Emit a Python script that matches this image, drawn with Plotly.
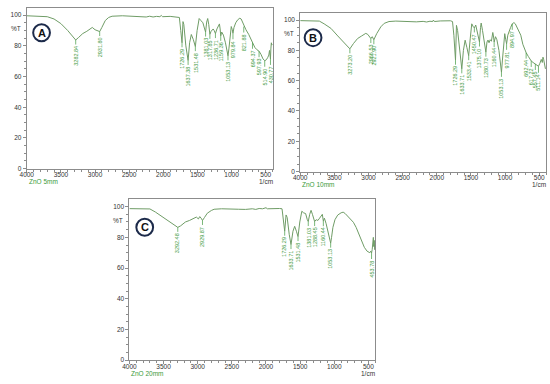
import plotly.graph_objects as go
import numpy as np

# ---------------- data ----------------
wn_A = [4000, 3900, 3750, 3700, 3600, 3500, 3400, 3330, 3283, 3240, 3180, 3120, 3060, 3040, 3000, 2960, 2932, 2900,
        2850, 2800, 2750, 2600, 2500, 2400, 2300, 2250, 2200, 2150, 2100, 2050, 2030, 2010, 1900, 1780, 1765, 1745,
        1726, 1712, 1700, 1670, 1637, 1615, 1590, 1560, 1531, 1505, 1475, 1450, 1420, 1395, 1381, 1365, 1350, 1335,
        1318, 1300, 1270, 1255, 1237, 1215, 1195, 1178, 1168, 1159, 1145, 1120, 1090, 1065, 1053, 1040, 1025, 1005,
        990, 980, 965, 940, 910, 880, 860, 840, 822, 790, 750, 720, 694, 660, 630, 598, 570, 540, 515, 490, 470, 455,
        445, 438, 431, 425, 418, 410, 400]
t_A = [99.6, 99.5, 99.3, 99.0, 97.5, 94.5, 90.0, 86.0, 83.8, 85.5, 88.0, 89.5, 91.0, 92.0, 90.5, 90.0, 89.3, 92.0,
       96.5, 98.5, 99.3, 99.6, 99.4, 99.5, 99.2, 98.8, 99.3, 98.8, 99.2, 99.0, 99.8, 99.0, 99.2, 99.0, 98.5, 90.0,
       82.0, 95.8, 94.0, 80.0, 70.5, 82.0, 87.4, 84.0, 79.5, 90.0, 97.8, 96.5, 95.0, 91.0, 89.0, 95.5, 97.8, 94.0,
       87.5, 89.5, 91.0, 90.0, 88.0, 91.0, 92.5, 94.3, 91.0, 86.5, 89.0, 87.0, 82.0, 76.0, 73.5, 78.0, 85.0, 92.6,
       90.5, 88.2, 92.0, 95.0, 97.0, 98.0, 97.5, 95.5, 92.6, 90.5, 87.5, 84.5, 82.0, 79.0, 77.5, 76.5, 74.5, 71.5,
       70.3, 71.0, 72.5, 74.0, 77.0, 73.0, 71.5, 78.0, 82.0, 80.5, 81.0]
pk_A = [3283, 2932, 1726, 1637, 1531, 1381, 1318, 1237, 1159, 1053, 980, 822, 694, 598, 515, 431]
lb_A = ["3282.84", "2931.80", "1726.29", "1637.38", "1531.48", "1381.03", "1317.85", "1236.71", "1159.36",
        "1053.13", "979.84", "821.88", "694.37", "597.93", "514.90", "430.77"]

wn_B = [4000, 3800, 3720, 3650, 3550, 3450, 3350, 3273, 3220, 3160, 3100, 3040, 3010, 2966, 2945, 2922, 2880, 2820,
        2770, 2700, 2600, 2500, 2400, 2300, 2200, 2150, 2100, 2060, 2050, 2035, 1950, 1800, 1770, 1750, 1726, 1712,
        1695, 1665, 1634, 1610, 1585, 1560, 1533, 1510, 1488, 1465, 1450, 1430, 1405, 1375, 1360, 1350, 1330, 1305,
        1281, 1265, 1250, 1235, 1218, 1200, 1180, 1170, 1160, 1140, 1120, 1090, 1065, 1053, 1040, 1025, 1005, 990,
        978, 960, 945, 920, 895, 870, 850, 830, 800, 770, 740, 715, 692, 660, 640, 617, 590, 557, 530, 511, 490, 470,
        455, 445, 435, 425, 410, 400]
t_B = [99.6, 99.6, 99.3, 97.5, 94.5, 89.5, 84.5, 81.0, 84.5, 87.8, 89.5, 91.2, 90.5, 87.8, 89.0, 87.0, 91.0, 95.5,
       97.8, 99.0, 99.3, 99.0, 99.2, 98.8, 99.1, 98.7, 99.2, 99.0, 100.0, 99.0, 99.4, 99.5, 99.0, 90.0, 73.5, 96.5,
       93.0, 78.0, 67.8, 80.0, 86.7, 82.0, 76.5, 88.0, 97.5, 95.5, 94.8, 96.7, 92.0, 85.5, 95.0, 98.0, 93.0, 84.0,
       78.8, 85.5, 86.8, 85.0, 87.0, 86.0, 91.8, 89.5, 85.5, 89.0, 87.0, 80.0, 70.0, 65.5, 73.0, 82.0, 91.0, 87.0,
       84.3, 90.0, 92.2, 95.0, 97.5, 98.3, 97.5, 95.5, 93.3, 90.0, 84.0, 80.5, 78.5, 76.0, 74.5, 73.0, 72.0, 71.0,
       70.5, 69.5, 71.5, 74.0, 72.0, 75.5, 74.0, 70.0, 68.0, 68.5]
pk_B = [3273, 2966, 2922, 1726, 1634, 1533, 1450, 1375, 1281, 1160, 1053, 978, 895, 692, 617, 557, 511]
lb_B = ["3273.20", "2966.53", "2921.90", "1726.29", "1633.71", "1533.41", "1450.47", "1375.10", "1280.73",
        "1160.44", "1053.13", "977.81", "894.97", "692.44", "617.22", "557.45", "511.14"]

wn_C = [4000, 3800, 3700, 3620, 3520, 3420, 3340, 3292, 3250, 3180, 3120, 3060, 3020, 2990, 2970, 2950, 2930, 2900,
        2860, 2800, 2760, 2650, 2550, 2450, 2400, 2300, 2200, 2150, 2100, 2050, 2000, 1980, 1900, 1800, 1765, 1745,
        1726, 1706, 1690, 1660, 1634, 1605, 1580, 1555, 1531, 1505, 1475, 1450, 1420, 1395, 1381, 1360, 1340, 1320,
        1300, 1288, 1265, 1240, 1215, 1190, 1175, 1160, 1145, 1120, 1090, 1065, 1053, 1040, 1020, 990, 950, 900, 870,
        840, 800, 760, 720, 680, 640, 600, 560, 520, 500, 480, 465, 454, 445, 432, 428, 422, 415, 408, 400]
t_C = [98.7, 98.7, 98.5, 96.5, 93.5, 90.5, 88.0, 86.5, 87.5, 90.0, 91.0, 92.5, 93.2, 92.0, 93.5, 92.5, 91.0, 93.0,
       95.7, 97.5, 98.3, 98.6, 98.4, 98.0, 98.3, 98.2, 98.6, 98.2, 98.8, 98.6, 99.3, 98.6, 98.8, 98.8, 98.6, 92.0,
       84.0, 94.6, 93.0, 82.0, 75.3, 84.0, 87.2, 84.0, 80.5, 90.0, 97.0, 96.0, 95.5, 91.5, 90.3, 95.0, 97.6, 95.0,
       91.5, 90.3, 91.5, 91.0, 92.5, 94.0, 95.0, 90.5, 92.5, 89.0, 84.0, 78.0, 76.2, 80.0, 86.5, 91.5, 94.5, 96.0,
       96.4, 95.5, 93.5, 91.5, 89.8, 86.5, 82.0, 77.5, 73.5, 71.0, 70.2, 70.0, 71.0, 69.8, 72.0, 78.0, 80.0, 74.0,
       78.0, 72.0, 73.0]
pk_C = [3292, 2930, 1726, 1634, 1531, 1381, 1288, 1160, 1053, 454]
lb_C = ["3292.48", "2929.87", "1726.29", "1633.71", "1531.48", "1381.03", "1288.45", "1160.44", "1053.13", "453.78"]

names = ["ZnO 5mm", "ZnO 10mm", "ZnO 20mm"]
letters = ["A", "B", "C"]
x_ticks = [4000, 3500, 3000, 2500, 2000, 1500, 1000, 500]
y_ticks = [0, 20, 40, 60, 80, 100]

# ---------------- layout geometry (pixels) ----------------
W, H = 550, 384
boxes = [(20, 269, 8, 170), (297, 546, 13, 173), (124, 373, 201, 363)]   # left, right, top, bottom
circles = [(35, 33), (310, 38), (139.5, 229)]

LINE = "#6f9c66"
LBL = "#3f9a3f"
AX = "#8c8c8c"
TXT = "#333333"
FONT = "Liberation Sans, Arial, sans-serif"

fig = go.Figure()
spectra = [(wn_A, t_A, pk_A, lb_A), (wn_B, t_B, pk_B, lb_B), (wn_C, t_C, pk_C, lb_C)]
annotations = []
shapes = []
for i, (wn, tt, pk, lb) in enumerate(spectra):
    sfx = "" if i == 0 else str(i + 1)
    xa, ya = "x" + sfx, "y" + sfx
    fig.add_trace(go.Scatter(x=wn, y=tt, mode="lines", line=dict(color=LINE, width=1),
                             xaxis=xa, yaxis=ya, showlegend=False, hoverinfo="skip"))
    l, r, t, b = boxes[i]
    common = dict(showline=True, linecolor=AX, linewidth=1, mirror=True, showgrid=False, zeroline=False,
                  ticks="outside", ticklen=3, tickcolor=AX,
                  tickfont=dict(size=6.5, color=TXT, family=FONT))
    fig.update_layout(**{
        "xaxis" + sfx: dict(domain=[l / W, r / W], anchor=ya, range=[4000, 400], tickvals=x_ticks,
                            ticklabelstandoff=-3,
                            minor=dict(dtick=100, ticks="outside", ticklen=2, tickcolor=AX), **common),
        "yaxis" + sfx: dict(domain=[1 - b / H, 1 - t / H], anchor=xa, range=[0, 104.7], tickvals=y_ticks,
                            minor=dict(dtick=5, ticks="outside", ticklen=2, tickcolor=AX), **common),
    })
    # peak labels
    wn_r = np.array(wn[::-1], dtype=float)
    t_r = np.array(tt[::-1], dtype=float)
    for p, s in zip(pk, lb):
        yv = float(np.interp(p, wn_r, t_r))
        annotations.append(dict(x=p, y=yv, xref=xa, yref=ya, text=s, textangle=-90,
                                font=dict(size=5.5, color=LBL, family=FONT),
                                showarrow=True, arrowhead=0, arrowwidth=0.7, arrowcolor=LBL,
                                ax=0, ay=16, standoff=0))
    # %T
    annotations.append(dict(x=l / W, y=91, xref="paper", yref=ya, text="%T", showarrow=False,
                            xanchor="right", xshift=-4, font=dict(size=6.5, color=TXT, family=FONT)))
    # 1/cm
    annotations.append(dict(x=(r - 7) / W, y=1 - (b + 13) / H, xref="paper", yref="paper", text="1/cm",
                            showarrow=False, xanchor="center", yanchor="middle",
                            font=dict(size=6.5, color=TXT, family=FONT)))
    # sample name
    annotations.append(dict(x=l / W, y=1 - (b + 13) / H, xref="paper", yref="paper", text=names[i],
                            showarrow=False, xanchor="left", yanchor="middle",
                            font=dict(size=6.5, color="#3a9a3a", family=FONT)))
    # circled letter
    cx, cy = circles[i]
    rad = 8.5
    shapes.append(dict(type="circle", xref="paper", yref="paper",
                       x0=(cx - rad) / W, x1=(cx + rad) / W, y0=1 - (cy + rad) / H, y1=1 - (cy - rad) / H,
                       line=dict(color="#1c2a4a", width=2), fillcolor="white"))
    annotations.append(dict(x=cx / W, y=1 - cy / H, xref="paper", yref="paper", text="<b>%s</b>" % letters[i],
                            showarrow=False, xanchor="center", yanchor="middle",
                            font=dict(size=11, color="#111111", family=FONT)))

fig.update_layout(width=W, height=H, margin=dict(l=0, r=0, t=0, b=0), paper_bgcolor="white",
                  plot_bgcolor="white", annotations=annotations, shapes=shapes, showlegend=False)
fig.write_html("out.html", config={"displayModeBar": False},
               post_script="document.body.style.margin='0px';document.body.style.padding='0px';"
                           "document.body.style.overflow='hidden';")
